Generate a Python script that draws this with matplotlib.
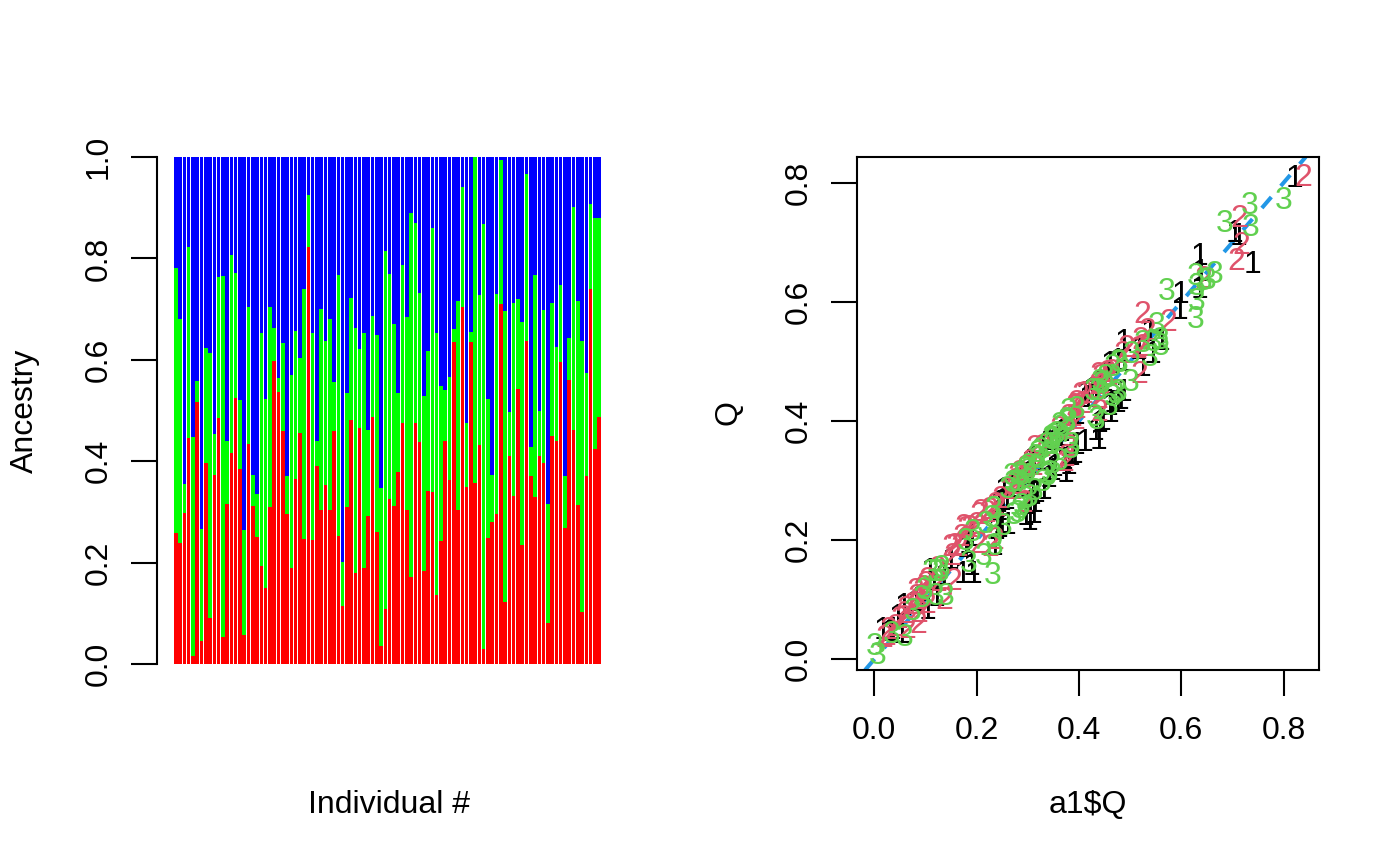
"""Ancestry barplot plus estimated vs. true Q scatter (two panels)."""

import matplotlib
matplotlib.use("Agg")
import matplotlib.pyplot as plt
import numpy as np
from matplotlib.ticker import FormatStrFormatter

# a1$Q : true ancestry proportions, one value per individual and cluster
q_true_1 = [0.258, 0.238, 0.297, 0.446, 0.016, 0.517, 0.045, 0.396, 0.091, 0.373,
            0.486, 0.053, 0.316, 0.417, 0.525, 0.385, 0.057, 0.433, 0.312, 0.251,
            0.193, 0.149, 0.310, 0.598, 0.537, 0.460, 0.296, 0.190, 0.365, 0.456,
            0.247, 0.822, 0.245, 0.391, 0.304, 0.353, 0.304, 0.460, 0.252, 0.115,
            0.310, 0.481, 0.179, 0.466, 0.189, 0.292, 0.487, 0.260, 0.036, 0.108,
            0.325, 0.312, 0.379, 0.475, 0.304, 0.172, 0.475, 0.438, 0.183, 0.341,
            0.340, 0.136, 0.243, 0.440, 0.363, 0.635, 0.304, 0.704, 0.349, 0.635,
            0.357, 0.432, 0.030, 0.249, 0.281, 0.295, 0.711, 0.122, 0.411, 0.331,
            0.543, 0.235, 0.637, 0.371, 0.329, 0.411, 0.396, 0.080, 0.450, 0.440,
            0.596, 0.268, 0.561, 0.462, 0.314, 0.103, 0.371, 0.740, 0.424, 0.487]
q_true_2 = [0.524, 0.442, 0.059, 0.376, 0.432, 0.042, 0.221, 0.227, 0.523, 0.081,
            0.278, 0.713, 0.124, 0.390, 0.246, 0.136, 0.208, 0.271, 0.061, 0.084,
            0.460, 0.374, 0.394, 0.065, 0.027, 0.174, 0.075, 0.380, 0.292, 0.148,
            0.493, 0.103, 0.407, 0.049, 0.396, 0.284, 0.376, 0.096, 0.515, 0.086,
            0.225, 0.241, 0.484, 0.155, 0.463, 0.170, 0.200, 0.389, 0.312, 0.707,
            0.444, 0.359, 0.156, 0.312, 0.380, 0.718, 0.395, 0.294, 0.346, 0.276,
            0.520, 0.517, 0.305, 0.100, 0.203, 0.026, 0.411, 0.237, 0.126, 0.020,
            0.643, 0.295, 0.838, 0.274, 0.092, 0.435, 0.283, 0.574, 0.086, 0.381,
            0.177, 0.440, 0.329, 0.057, 0.438, 0.088, 0.302, 0.236, 0.262, 0.185,
            0.152, 0.103, 0.082, 0.439, 0.402, 0.534, 0.203, 0.167, 0.456, 0.393]
q_true_3 = [0.218, 0.320, 0.644, 0.178, 0.552, 0.441, 0.734, 0.377, 0.386, 0.546,
            0.236, 0.234, 0.560, 0.193, 0.229, 0.479, 0.735, 0.296, 0.627, 0.665,
            0.347, 0.477, 0.296, 0.337, 0.436, 0.366, 0.629, 0.430, 0.343, 0.396,
            0.260, 0.075, 0.348, 0.560, 0.300, 0.363, 0.320, 0.444, 0.233, 0.799,
            0.465, 0.278, 0.337, 0.379, 0.348, 0.538, 0.313, 0.351, 0.652, 0.185,
            0.231, 0.329, 0.465, 0.213, 0.316, 0.110, 0.130, 0.268, 0.471, 0.383,
            0.140, 0.347, 0.452, 0.460, 0.434, 0.339, 0.285, 0.059, 0.525, 0.345,
            0.000, 0.273, 0.132, 0.477, 0.627, 0.270, 0.006, 0.304, 0.503, 0.288,
            0.280, 0.325, 0.034, 0.572, 0.233, 0.501, 0.302, 0.684, 0.288, 0.375,
            0.252, 0.629, 0.357, 0.099, 0.284, 0.363, 0.426, 0.093, 0.120, 0.120]

# Q : estimated proportions (approximate)
q_est_1 = [0.272, 0.222, 0.263, 0.404, 0.054, 0.523, 0.075, 0.364, 0.109, 0.317,
           0.537, 0.047, 0.284, 0.443, 0.495, 0.345, 0.093, 0.457, 0.248, 0.269,
           0.147, 0.171, 0.340, 0.618, 0.553, 0.430, 0.314, 0.210, 0.385, 0.484,
           0.253, 0.812, 0.225, 0.349, 0.316, 0.327, 0.266, 0.500, 0.288, 0.135,
           0.280, 0.439, 0.191, 0.434, 0.161, 0.308, 0.503, 0.230, 0.054, 0.152,
           0.335, 0.328, 0.331, 0.505, 0.236, 0.148, 0.435, 0.372, 0.197, 0.309,
           0.370, 0.144, 0.267, 0.400, 0.377, 0.681, 0.336, 0.720, 0.321, 0.625,
           0.373, 0.388, 0.050, 0.231, 0.299, 0.245, 0.715, 0.108, 0.449, 0.289,
           0.517, 0.195, 0.655, 0.389, 0.361, 0.369, 0.414, 0.100, 0.470, 0.470,
           0.591, 0.292, 0.539, 0.418, 0.266, 0.087, 0.339, 0.667, 0.456, 0.453]
q_est_2 = [0.584, 0.478, 0.081, 0.404, 0.458, 0.058, 0.249, 0.193, 0.528, 0.119,
           0.312, 0.744, 0.156, 0.430, 0.274, 0.104, 0.252, 0.289, 0.089, 0.096,
           0.480, 0.336, 0.406, 0.055, 0.053, 0.226, 0.095, 0.410, 0.308, 0.192,
           0.527, 0.137, 0.433, 0.071, 0.424, 0.316, 0.344, 0.124, 0.525, 0.064,
           0.255, 0.259, 0.516, 0.135, 0.487, 0.210, 0.230, 0.411, 0.358, 0.672,
           0.466, 0.391, 0.194, 0.328, 0.360, 0.700, 0.435, 0.266, 0.374, 0.304,
           0.540, 0.483, 0.335, 0.130, 0.197, 0.044, 0.449, 0.263, 0.134, 0.040,
           0.642, 0.325, 0.814, 0.296, 0.118, 0.465, 0.297, 0.571, 0.104, 0.389,
           0.223, 0.420, 0.361, 0.073, 0.482, 0.082, 0.328, 0.204, 0.288, 0.225,
           0.178, 0.097, 0.108, 0.441, 0.448, 0.556, 0.247, 0.193, 0.484, 0.427]
q_est_3 = [0.232, 0.340, 0.639, 0.202, 0.566, 0.469, 0.766, 0.403, 0.364, 0.537,
           0.194, 0.256, 0.530, 0.217, 0.241, 0.501, 0.729, 0.324, 0.647, 0.650,
           0.363, 0.453, 0.274, 0.363, 0.454, 0.394, 0.605, 0.410, 0.317, 0.424,
           0.290, 0.085, 0.372, 0.540, 0.320, 0.337, 0.350, 0.466, 0.207, 0.775,
           0.495, 0.302, 0.313, 0.421, 0.332, 0.512, 0.287, 0.379, 0.640, 0.165,
           0.146, 0.301, 0.445, 0.177, 0.344, 0.150, 0.150, 0.312, 0.449, 0.357,
           0.110, 0.373, 0.478, 0.430, 0.406, 0.311, 0.315, 0.041, 0.535, 0.375,
           0.027, 0.247, 0.158, 0.503, 0.576, 0.300, 0.012, 0.276, 0.517, 0.312,
           0.250, 0.355, 0.046, 0.622, 0.257, 0.469, 0.328, 0.737, 0.262, 0.405,
           0.228, 0.630, 0.383, 0.121, 0.256, 0.397, 0.454, 0.107, 0.110, 0.150]

bar_colors = ["red", "#00ff00", "blue"]
point_labels = ["1", "2", "3"]
point_colors = ["black", "#DF536B", "#61D04F"]
line_color = "#2297E6"

W, H = 1400, 866
FS = 23


def px_rect(x0, y0, x1, y1):
    """Axes rectangle from pixel corners (top-left origin)."""
    return [x0 / W, 1 - y1 / H, (x1 - x0) / W, (y1 - y0) / H]


def style_axis(ax):
    ax.tick_params(length=19, width=1.5, labelsize=FS, direction="out")
    ax.tick_params(axis="x", pad=14)
    ax.tick_params(axis="y", pad=12)
    ax.yaxis.set_major_formatter(FormatStrFormatter("%.1f"))
    ax.xaxis.set_major_formatter(FormatStrFormatter("%.1f"))
    for lab in ax.get_yticklabels():
        lab.set_rotation(90)
        lab.set_va("center")


plt.rcParams["font.family"] = ["Liberation Sans", "DejaVu Sans"]
fig = plt.figure(figsize=(W / 100, H / 100), dpi=100)

# ---- left panel: stacked ancestry barplot -------------------------------
ax1 = fig.add_axes(px_rect(157, 136.7, 618, 684.3))
n = len(q_true_1)
pos = 0.7 + 1.2 * np.arange(n)
red = np.array(q_true_1)
green = np.array(q_true_2)
blue = np.array(q_true_3)
ax1.bar(pos, red, width=1.0, color=bar_colors[0], linewidth=0)
ax1.bar(pos, green, width=1.0, bottom=red, color=bar_colors[1], linewidth=0)
ax1.bar(pos, blue, width=1.0, bottom=red + green, color=bar_colors[2], linewidth=0)
ax1.set_xlim(0.2 - 0.04 * 119.8, 120 + 0.04 * 119.8)
ax1.set_ylim(-0.04, 1.04)
ax1.set_yticks(np.arange(0, 1.01, 0.2))
ax1.set_xticks([])
for side in ["top", "right", "bottom"]:
    ax1.spines[side].set_visible(False)
ax1.spines["left"].set_bounds(0, 1)
ax1.spines["left"].set_linewidth(1.5)
style_axis(ax1)
fig.text(389 / W, 1 - 805 / H, "Individual #", ha="center", va="center", fontsize=FS)
fig.text(25 / W, 1 - 411 / H, "Ancestry", ha="center", va="center",
         rotation=90, fontsize=FS)

# ---- right panel: estimated vs. true ------------------------------------
ax2 = fig.add_axes(px_rect(857, 157, 1319, 670))
ax2.set_xlim(-0.0338, 0.869)
ax2.set_ylim(-0.018, 0.843)
for xs, ys, lab, col in zip([q_true_1, q_true_2, q_true_3],
                            [q_est_1, q_est_2, q_est_3],
                            point_labels, point_colors):
    for xv, yv in zip(xs, ys):
        ax2.text(xv, yv, lab, color=col, fontsize=FS, ha="center",
                 va="center_baseline", clip_on=True)
ax2.axline((0, 0), slope=1, color=line_color, lw=2.9, linestyle=(0, (3.6, 3.6)))
ax2.set_xticks(np.arange(0, 0.81, 0.2))
ax2.set_yticks(np.arange(0, 0.81, 0.2))
for sp in ax2.spines.values():
    sp.set_linewidth(1.5)
style_axis(ax2)
fig.text(1088 / W, 1 - 805 / H, "a1$Q", ha="center", va="center", fontsize=FS)
fig.text(728 / W, 1 - 413 / H, "Q", ha="center", va="center",
         rotation=90, fontsize=FS)

fig.savefig("out.png", dpi=100)
